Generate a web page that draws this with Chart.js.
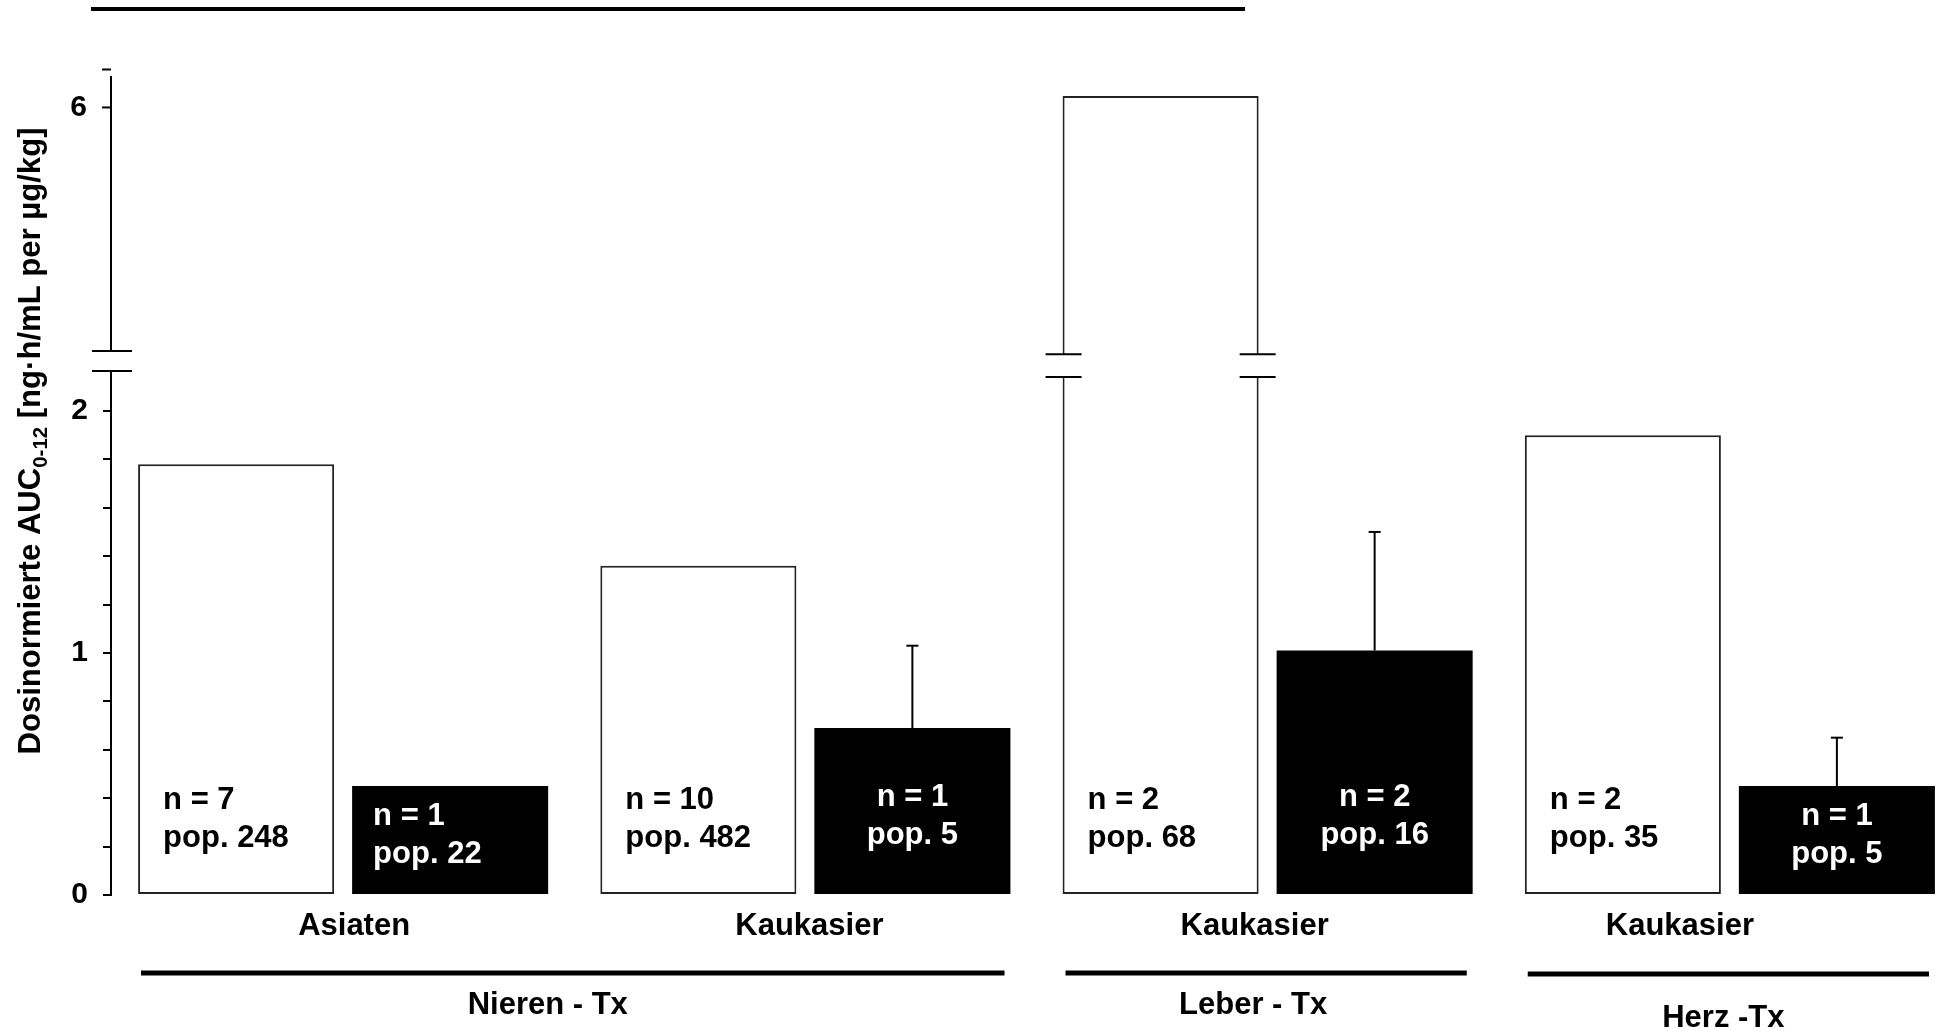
<!DOCTYPE html>
<html>
<head>
<meta charset="utf-8">
<script src="https://cdn.jsdelivr.net/npm/chart.js@4.4.1/dist/chart.umd.min.js"></script>
<style>
  html, body { margin: 0; padding: 0; background: #fff; overflow: hidden; }
  #wrap { width: 1966px; height: 1031px; }
</style>
</head>
<body>
<div id="wrap"><canvas id="auc" width="1966" height="1031"></canvas></div>
<script>
// Dosisnormierte AUC0-12, Asiaten vs. Kaukasier, nach Transplantat
var categories = ['Asiaten', 'Kaukasier', 'Kaukasier', 'Kaukasier'];
var groups = ['Nieren - Tx', 'Leber - Tx', 'Herz -Tx'];
var groupSpans = [[0, 1], [2, 2], [3, 3]];

var whiteValues = [1.78, 1.36, 6.06, 1.90];
var blackValues = [0.45, 0.69, 1.01, 0.45];
var blackErrTop = [null, 1.03, 1.50, 0.65];

var whiteN = ['n = 7', 'n = 10', 'n = 2', 'n = 2'];
var whitePop = ['pop. 248', 'pop. 482', 'pop. 68', 'pop. 35'];
var blackN = ['n = 1', 'n = 1', 'n = 2', 'n = 1'];
var blackPop = ['pop. 22', 'pop. 5', 'pop. 16', 'pop. 5'];

var lowerTickLabels = [0, 1, 2];
var upperTicks = [6, 6.2];
var upperTickLabels = [6];

// axis break (value on lower / upper scale)
var lowBreak = 2.165, upBreak = 4.717, upAxisTop = 6.166;
var barLowCut = 2.14, barUpCut = 4.70;

// label nudges (px)
var catShift = [11, 4, -13, -50];
var groupShift = [-25, -13, -5];
var groupDy = [0, 0, 13];

var FONT = '"Liberation Sans", Arial, sans-serif';
Chart.defaults.font.family = FONT;
Chart.defaults.color = '#000';

function line(ctx, x1, y1, x2, y2, w) {
    ctx.lineWidth = w;
    ctx.beginPath();
    ctx.moveTo(x1, y1);
    ctx.lineTo(x2, y2);
    ctx.stroke();
}

var decor = {
    id: 'decor',
    afterDatasetsDraw: function(chart) {
        var ctx = chart.ctx;
        var y = chart.scales.y, yt = chart.scales.yTop, x = chart.scales.x;
        var ax = chart.chartArea.left - 1;
        ctx.save();
        ctx.strokeStyle = '#000';
        ctx.fillStyle = '#000';
        ctx.lineCap = 'butt';

        // axis lines with break
        line(ctx, ax, y.getPixelForValue(0) + 1, ax, y.getPixelForValue(lowBreak), 2);
        line(ctx, ax, yt.getPixelForValue(upBreak), ax, yt.getPixelForValue(upAxisTop), 2);
        line(ctx, ax - 19, y.getPixelForValue(lowBreak), ax + 21, y.getPixelForValue(lowBreak), 2);
        line(ctx, ax - 19, yt.getPixelForValue(upBreak), ax + 21, yt.getPixelForValue(upBreak), 2);

        // upper axis ticks
        ctx.font = 'bold 30px ' + FONT;
        ctx.textAlign = 'right';
        ctx.textBaseline = 'middle';
        upperTicks.forEach(function(v) {
            line(ctx, ax - 9, yt.getPixelForValue(v), ax, yt.getPixelForValue(v), 2);
        });
        upperTickLabels.forEach(function(v) {
            ctx.fillText(String(v), ax - 24, yt.getPixelForValue(v));
        });

        // break marks on broken bars
        var wMeta = chart.getDatasetMeta(0);
        wMeta.data.forEach(function(el, i) {
            if (whiteValues[i] <= barLowCut) return;
            var l = el.x - el.width / 2, r = el.x + el.width / 2;
            [l + 1, r - 1].forEach(function(ex) {
                line(ctx, ex - 18, y.getPixelForValue(barLowCut), ex + 18, y.getPixelForValue(barLowCut), 2);
                line(ctx, ex - 18, yt.getPixelForValue(barUpCut), ex + 18, yt.getPixelForValue(barUpCut), 2);
            });
        });

        // error bars (upper only)
        var bMeta = chart.getDatasetMeta(2);
        bMeta.data.forEach(function(el, i) {
            if (blackErrTop[i] == null) return;
            var ey = y.getPixelForValue(blackErrTop[i]);
            line(ctx, el.x, el.y, el.x, ey, 2);
            line(ctx, el.x - 6, ey, el.x + 6, ey, 2);
        });

        // bar labels
        var zero = y.getPixelForValue(0);
        ctx.font = 'bold 31px ' + FONT;
        ctx.textBaseline = 'middle';
        wMeta.data.forEach(function(el, i) {
            ctx.fillStyle = '#000';
            ctx.textAlign = 'left';
            var lx = el.x - el.width / 2 + 25;
            ctx.fillText(whiteN[i], lx, zero - 95);
            ctx.fillText(whitePop[i], lx, zero - 57);
        });
        bMeta.data.forEach(function(el, i) {
            ctx.fillStyle = '#fff';
            var y1 = Math.max(zero - 98, el.y + 30);
            var lx = el.x;
            if (i === 0) {
                ctx.textAlign = 'left';
                lx = el.x - el.width / 2 + 21;
            } else {
                ctx.textAlign = 'center';
            }
            ctx.fillText(blackN[i], lx, y1);
            ctx.fillText(blackPop[i], lx, y1 + 38);
        });

        // category labels
        ctx.fillStyle = '#000';
        ctx.textAlign = 'center';
        categories.forEach(function(c, i) {
            ctx.fillText(c, x.getPixelForValue(i) + catShift[i], 926);
        });

        // group lines + labels
        var cw = x.getPixelForValue(1) - x.getPixelForValue(0);
        groups.forEach(function(g, k) {
            var a = x.getPixelForValue(groupSpans[k][0]) - cw / 2 + 29;
            var b = x.getPixelForValue(groupSpans[k][1]) + cw / 2 - 32;
            line(ctx, a, 973 + (k === 2 ? 1 : 0), b, 973 + (k === 2 ? 1 : 0), 5);
            ctx.fillText(g, (a + b) / 2 + groupShift[k], 1005 + groupDy[k]);
        });

        // rule on top
        line(ctx, 91, 9, 1245, 9, 4);

        // y title (rotated, subscript 0-12)
        var parts = [
            { t: 'Dosinormierte AUC', s: 32, dy: 0 },
            { t: '0-12', s: 21, dy: 7 },
            { t: ' [ng\u00b7h/mL per \u00b5g/kg]', s: 32, dy: 0 }
        ];
        var total = 0;
        parts.forEach(function(p) {
            ctx.font = 'bold ' + p.s + 'px ' + FONT;
            p.w = ctx.measureText(p.t).width;
            total += p.w;
        });
        ctx.translate(40, 441);
        ctx.rotate(-Math.PI / 2);
        ctx.scale(627 / total, 1);
        ctx.textAlign = 'left';
        ctx.textBaseline = 'alphabetic';
        var px = -total / 2;
        parts.forEach(function(p) {
            ctx.font = 'bold ' + p.s + 'px ' + FONT;
            ctx.fillText(p.t, px, p.dy);
            px += p.w;
        });
        ctx.restore();
    }
};

var ctx = document.getElementById('auc').getContext('2d');
var aucChart = new Chart(ctx, {
    type: 'bar',
    data: {
        labels: categories,
        datasets: [{
            label: 'white',
            data: whiteValues.map(function(v) { return Math.min(v, barLowCut); }),
            yAxisID: 'y',
            stack: 'w',
            backgroundColor: '#fff',
            borderColor: '#222',
            borderWidth: 2,
            borderSkipped: function(c) { return whiteValues[c.dataIndex] > barLowCut ? 'top' : false; }
        }, {
            label: 'whiteTop',
            data: whiteValues.map(function(v) { return v > barLowCut ? [barUpCut, v] : null; }),
            yAxisID: 'yTop',
            stack: 'w',
            backgroundColor: '#fff',
            borderColor: '#222',
            borderWidth: 2,
            borderSkipped: 'bottom'
        }, {
            label: 'black',
            data: blackValues,
            yAxisID: 'y',
            stack: 'b',
            backgroundColor: '#000',
            borderWidth: 0
        }]
    },
    options: {
        responsive: false,
        animation: false,
        categoryPercentage: 0.926,
        barPercentage: 0.916,
        layout: { padding: { left: 0, right: 5, top: 60, bottom: 136 } },
        plugins: { legend: { display: false }, tooltip: { enabled: false } },
        scales: {
            x: { display: false },
            y: {
                position: 'left',
                min: 0,
                max: 3.45,
                stacked: false,
                border: { display: false },
                grid: { drawOnChartArea: false, tickLength: 9, lineWidth: 2, color: '#000' },
                ticks: {
                    stepSize: 0.2,
                    padding: 15,
                    font: { size: 30, weight: 'bold' },
                    color: '#000',
                    callback: function(v) {
                        return lowerTickLabels.indexOf(Math.round(v * 1000) / 1000) >= 0 ? String(v) : '';
                    }
                },
                afterBuildTicks: function(s) {
                    s.ticks = s.ticks.filter(function(t) { return t.value <= 2.001; });
                },
                afterFit: function(s) { s.width = 112; }
            },
            yTop: {
                position: 'left',
                display: false,
                min: 1.85,
                max: 6.25,
                stacked: false
            }
        }
    },
    plugins: [decor]
});
</script>
</body>
</html>
